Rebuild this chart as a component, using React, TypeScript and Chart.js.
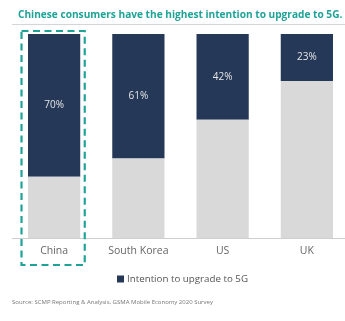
import React, { useEffect, useRef } from "react";
import { Chart, registerables } from "chart.js";

Chart.register(...registerables);

const categories = ["China", "South Korea", "US", "UK"];
const intention = [70, 61, 42, 23];
const remainder = [30, 39, 58, 77];
const titleText = "Chinese consumers have the highest intention to upgrade to 5G.";
const legendText = "Intention to upgrade to 5G";
const sourceText = "Source: SCMP Reporting & Analysis, GSMA Mobile Economy 2020 Survey";

const NAVY = "#253858";
const GRAY = "#d9d9d9";
const TEAL = "#1fa398";
const FONT = "'Open Sans', 'DejaVu Sans', sans-serif";

function fitText(ctx: CanvasRenderingContext2D, text: string, weight: string, base: number, target: number) {
  ctx.font = `${weight} ${base}px ${FONT}`;
  const w = ctx.measureText(text).width;
  const size = (base * target) / w;
  ctx.font = `${weight} ${size}px ${FONT}`;
}

const decorPlugin = {
  id: "decor",
  afterDraw(chart: any) {
    const ctx: CanvasRenderingContext2D = chart.ctx;
    const area = chart.chartArea;
    ctx.save();
    // title
    ctx.fillStyle = TEAL;
    ctx.textBaseline = "middle";
    ctx.textAlign = "left";
    fitText(ctx, titleText, "bold", 11, 325);
    ctx.fillText(titleText, 18, 15);
    // separator line
    ctx.strokeStyle = "#d5d5d5";
    ctx.lineWidth = 1;
    ctx.beginPath();
    ctx.moveTo(12, 24.5);
    ctx.lineTo(345, 24.5);
    ctx.stroke();

    // value labels
    const meta = chart.getDatasetMeta(1);
    ctx.fillStyle = "#e6e6e6";
    ctx.textAlign = "center";
    ctx.font = `10px ${FONT}`;
    meta.data.forEach((bar: any, i: number) => {
      const cy = (bar.y + bar.base) / 2;
      ctx.fillText(`${intention[i]}%`, bar.x, cy);
    });

    // dashed highlight box around first category
    const b0: any = meta.data[0];
    const left = b0.x - b0.width / 2 - 6.5;
    const right = b0.x + b0.width / 2 + 4.5;
    ctx.strokeStyle = TEAL;
    ctx.lineWidth = 2.2;
    ctx.setLineDash([7, 4.5]);
    ctx.strokeRect(left, area.top - 3, right - left, 265 - (area.top - 3));
    ctx.setLineDash([]);

    // legend
    ctx.fillStyle = NAVY;
    ctx.fillRect(117, 275.5, 7, 7);
    ctx.fillStyle = "#555";
    ctx.textAlign = "left";
    fitText(ctx, legendText, "normal", 10, 121);
    ctx.fillText(legendText, 127, 279.5);

    // source
    ctx.fillStyle = "#777";
    fitText(ctx, sourceText, "normal", 6, 201);
    ctx.fillText(sourceText, 12, 302);
    ctx.restore();
  },
};

export default function App() {
  const ref = useRef<HTMLCanvasElement>(null);
  useEffect(() => {
    document.body.style.margin = "0";
    const chart = new Chart(ref.current!, {
      type: "bar",
      data: {
        labels: categories,
        datasets: [
          { label: "Other", data: remainder, backgroundColor: GRAY, categoryPercentage: 1, barPercentage: 0.62 },
          { label: legendText, data: intention, backgroundColor: NAVY, categoryPercentage: 1, barPercentage: 0.62 },
        ],
      },
      options: {
        responsive: false,
        animation: false,
        devicePixelRatio: 1,
        layout: { padding: { left: 12, right: 0, top: 34, bottom: 0 } },
        plugins: { legend: { display: false }, tooltip: { enabled: false }, title: { display: false } },
        scales: {
          x: {
            stacked: true,
            grid: { display: false, drawTicks: false },
            border: { display: true, color: "#cfcfcf", width: 1 },
            ticks: { color: "#666", font: { family: FONT, size: 10.5 }, padding: 7 },
            afterFit: (s: any) => {
              s.height = 321 - 238;
            },
          },
          y: { stacked: true, display: false, min: 0, max: 100 },
        },
      },
      plugins: [decorPlugin],
    });
    return () => chart.destroy();
  }, []);
  return (
    <div style={{ position: "absolute", left: 0, top: 0, width: 345, height: 321, overflow: "hidden", background: "#fff" }}>
      <canvas ref={ref} width={349} height={321} />
    </div>
  );
}
